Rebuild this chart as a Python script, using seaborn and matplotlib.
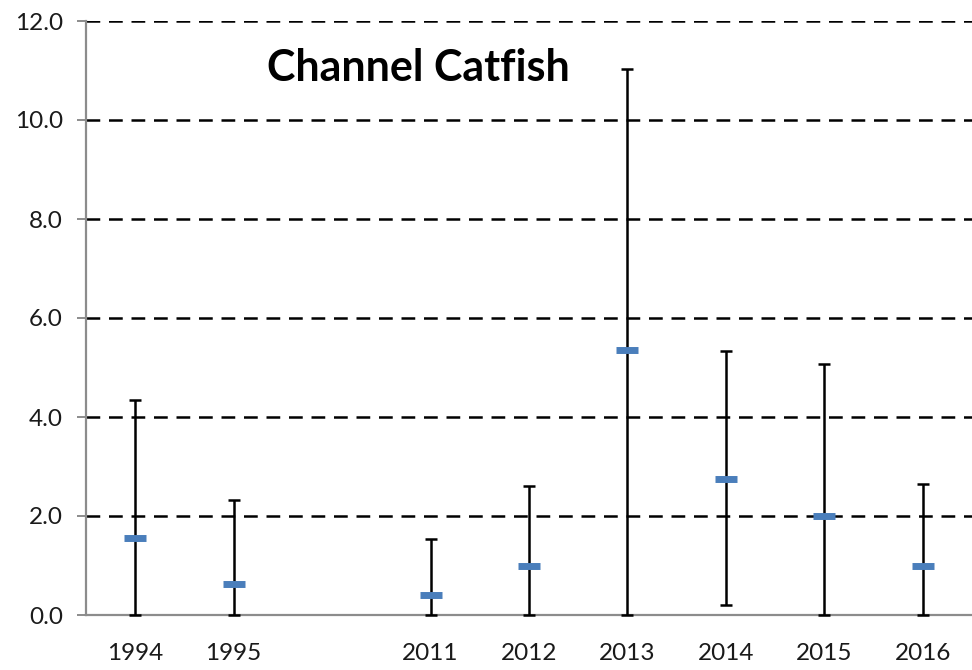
import numpy as np
import pandas as pd
import matplotlib
matplotlib.use("Agg")
import matplotlib.pyplot as plt
import seaborn as sns

# Data
years = ["1994", "1995", " ", "2011", "2012", "2013", "2014", "2015", "2016"]
means = [1.55, 0.63, np.nan, 0.40, 1.00, 5.35, 2.75, 2.00, 1.00]
lower = [0.0, 0.0, np.nan, 0.0, 0.0, 0.0, 0.20, 0.0, 0.0]
upper = [4.35, 2.33, np.nan, 1.53, 2.60, 11.03, 5.33, 5.08, 2.65]
yticks = [0, 2, 4, 6, 8, 10, 12]
title = "Channel Catfish"

sns.set_theme(style="white")
plt.rcParams["font.family"] = ["Lato", "DejaVu Sans"]

df = pd.DataFrame({"year": years, "mean": means, "lower": lower, "upper": upper})

fig = plt.figure(figsize=(9.72, 6.70), dpi=100)
ax = fig.add_axes([86 / 972, 55 / 670, 1 - 86 / 972, 594 / 670])

blue = "#4a7ebb"
pos = np.arange(len(years))
m = df["mean"].to_numpy()
err = np.vstack([m - df["lower"].to_numpy(), df["upper"].to_numpy() - m])
ax.errorbar(pos, m, yerr=err, fmt="none", ecolor="black", elinewidth=1.8,
            capsize=4, capthick=1.8, zorder=3, clip_on=False)

sns.pointplot(data=df, x="year", y="mean", order=years, linestyle="none",
              marker="_", markersize=16, markeredgewidth=5, color=blue,
              errorbar=None, ax=ax, zorder=4)

ax.set_ylim(0, 12)
ax.set_xlim(-0.5, len(years) - 0.5)
ax.set_yticks(yticks)
ax.set_yticklabels([f"{v:.1f}" for v in yticks])
ax.set_xticks(pos)
ax.set_xticklabels(years)
ax.set_xlabel("")
ax.set_ylabel("")

for v in yticks[1:]:
    ax.axhline(v, color="black", linestyle=(0, (5.5, 3.5)), linewidth=1.8, zorder=1)

for s in ["top", "right"]:
    ax.spines[s].set_visible(False)
for s in ["left", "bottom"]:
    ax.spines[s].set_color("#8c8c8c")
    ax.spines[s].set_linewidth(1.6)
    ax.spines[s].set_zorder(2)

ax.tick_params(axis="y", length=6.5, width=1.4, color="#8c8c8c", left=True,
               labelsize=17.5, pad=10, labelcolor="#1a1a1a")
ax.tick_params(axis="x", length=0, labelsize=17.5, pad=20, labelcolor="#1a1a1a")

ax.text(0.375, 0.921, title, transform=ax.transAxes, ha="center", va="center",
        fontsize=31, fontweight="bold", color="black")

fig.savefig("out.png", dpi=100)
